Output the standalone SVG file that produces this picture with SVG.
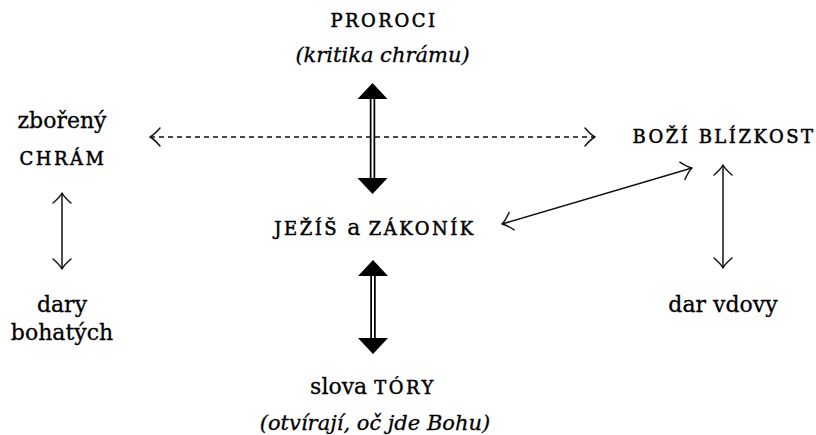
<svg xmlns="http://www.w3.org/2000/svg" width="816" height="435" viewBox="0 0 816 435">
<style>
text{font-family:"DejaVu Serif","Liberation Serif",serif;fill:#000;stroke:#000;stroke-width:0.3;text-anchor:middle}
.n{font-size:22px}
.it{font-size:21px;font-style:italic}
.sc{font-size:18px;letter-spacing:2.5px;stroke-width:0.5}
.thin{fill:none;stroke:#111;stroke-width:1.5}
.dash{stroke-dasharray:5 4}
.dbl{fill:none;stroke:#000;stroke-width:5.5}
.inner{fill:none;stroke:#fff;stroke-width:2}
.head{fill:none;stroke:#111;stroke-width:1.5;stroke-dasharray:none;stroke-linecap:round;stroke-linejoin:round}
</style>
<defs>
<marker id="open" markerUnits="userSpaceOnUse" viewBox="-12 -11 14 22" refX="0" refY="0" markerWidth="14" markerHeight="22" orient="auto-start-reverse" overflow="visible">
<path class="head" d="M-10,-9 Q-4,-2 0,0 Q-4,2 -10,9"/>
</marker>
<marker id="solid" markerUnits="userSpaceOnUse" viewBox="0 -16 17 32" refX="0" refY="0" markerWidth="17" markerHeight="32" orient="auto-start-reverse" overflow="visible">
<path d="M0,-15 L16,0 L0,15 Z" fill="#000"/>
</marker>
</defs>
<g id="connectors">
<path class="thin dash" d="M150,137 L595,137" marker-start="url(#open)" marker-end="url(#open)"/>
<path class="dbl" d="M372.5,99 L372.5,178" marker-start="url(#solid)" marker-end="url(#solid)"/>
<path class="inner" d="M372.5,99 L372.5,178"/>
<path class="dbl" d="M373,276 L373,338" marker-start="url(#solid)" marker-end="url(#solid)"/>
<path class="inner" d="M373,276 L373,338"/>
<path class="thin" d="M62,193 L62,269" marker-start="url(#open)" marker-end="url(#open)"/>
<path class="thin" d="M723,165 L723,268" marker-start="url(#open)" marker-end="url(#open)"/>
<path class="thin" d="M502,224 L692,168" marker-start="url(#open)" marker-end="url(#open)"/>
</g>
<g id="proroci">
<text class="sc" x="384" y="27">PROROCI</text>
<text class="it" x="382.5" y="62">(kritika chrámu)</text>
</g>
<g id="zboreny-chram">
<text class="n" x="62" y="128">zbořený</text>
<text class="sc" x="63" y="165">CHRÁM</text>
</g>
<g id="bozi-blizkost">
<text class="sc" x="724" y="143">BOŽÍ BLÍZKOST</text>
</g>
<g id="jezis-zakonik">
<text x="375" y="235"><tspan class="sc">JEŽÍŠ </tspan><tspan class="n">a</tspan><tspan class="sc"> ZÁKONÍK</tspan></text>
</g>
<g id="dary-bohatych">
<text class="n" x="62" y="312">dary</text>
<text class="n" x="62" y="340">bohatých</text>
</g>
<g id="dar-vdovy">
<text class="n" x="723" y="312">dar vdovy</text>
</g>
<g id="slova-tory">
<text x="373" y="394"><tspan class="n">slova </tspan><tspan class="sc">TÓRY</tspan></text>
<text class="it" x="375" y="430">(otvírají, oč jde Bohu)</text>
</g>
</svg>
